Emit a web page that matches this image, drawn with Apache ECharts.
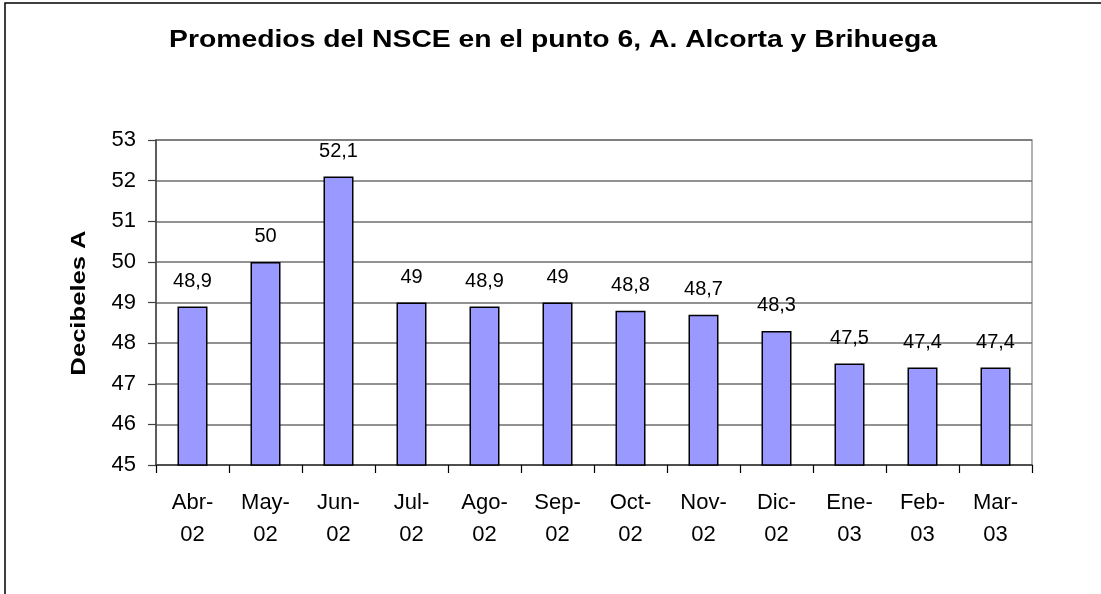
<!DOCTYPE html>
<html>
<head>
<meta charset="utf-8">
<script src="https://cdn.jsdelivr.net/npm/echarts@6/dist/echarts.min.js"></script>
<style>
  html, body { margin: 0; padding: 0; background: #fff; }
  #chart { width: 1101px; height: 594px; }
</style>
</head>
<body>
<div id="chart"></div>
<script>
// Monthly NSCE averages at point 6
const months = ['Abr-\n02', 'May-\n02', 'Jun-\n02', 'Jul-\n02', 'Ago-\n02', 'Sep-\n02',
                'Oct-\n02', 'Nov-\n02', 'Dic-\n02', 'Ene-\n03', 'Feb-\n03', 'Mar-\n03'];
const decibels = [48.9, 50, 52.1, 49, 48.9, 49, 48.8, 48.7, 48.3, 47.5, 47.4, 47.4];
const yMin = 45, yMax = 53, yStep = 1;
const titleText = 'Promedios del NSCE en el punto 6, A. Alcorta y Brihuega';
const yTitle = 'Decibeles A';

const font = 'Liberation Sans, Arial, sans-serif';
const chart = echarts.init(document.getElementById('chart'), null, { renderer: 'canvas' });

chart.setOption({
  backgroundColor: '#ffffff',
  animation: false,
  graphic: [
    {
      // outer frame of the chart
      type: 'rect',
      shape: { x: 5, y: 3, width: 1200, height: 700 },
      style: { fill: 'none', stroke: '#000', lineWidth: 1.5 },
      silent: true, z: -1
    },
    {
      // title, widened slightly
      type: 'text',
      x: 553, y: 40,
      scaleX: 1.18,
      style: {
        text: titleText, fill: '#000',
        font: 'bold 24px ' + font,
        textAlign: 'center', textVerticalAlign: 'middle'
      },
      silent: true
    },
    {
      // value axis title, rotated
      type: 'text',
      x: 79, y: 303,
      rotation: Math.PI / 2,
      scaleX: 1.22,
      style: {
        text: yTitle, fill: '#000',
        font: 'bold 21px ' + font,
        textAlign: 'center', textVerticalAlign: 'middle'
      },
      silent: true
    }
  ],
  grid: {
    left: 156, right: 69, top: 140, bottom: 129,
    show: true, borderColor: '#999999', borderWidth: 1.5, backgroundColor: 'transparent'
  },
  xAxis: {
    type: 'category',
    data: months,
    boundaryGap: true,
    axisLine: { lineStyle: { color: '#404040', width: 1.5 } },
    axisTick: { show: true, inside: false, length: 8, alignWithLabel: false,
                lineStyle: { color: '#000', width: 1.2 } },
    axisLabel: { fontFamily: font, fontSize: 22, color: '#000', margin: 22, lineHeight: 32 }
  },
  yAxis: {
    type: 'value',
    min: yMin, max: yMax, interval: yStep,
    axisLine: { show: true, lineStyle: { color: '#404040', width: 1.5 } },
    axisTick: { show: true, inside: false, length: 8, lineStyle: { color: '#404040', width: 1.2 } },
    axisLabel: { fontFamily: font, fontSize: 22, color: '#000', margin: 20 },
    splitLine: { show: true, lineStyle: { color: '#6e6e6e', width: 1.5 } }
  },
  series: [{
    type: 'bar',
    data: decibels,
    barWidth: 30,
    itemStyle: { color: '#9999ff', borderColor: '#000', borderWidth: 1.5 },
    label: {
      show: true,
      position: 'top',
      distance: 15,
      fontFamily: font,
      fontSize: 20,
      color: '#000',
      formatter: p => String(p.value).replace('.', ',')
    }
  }]
});
</script>
</body>
</html>
